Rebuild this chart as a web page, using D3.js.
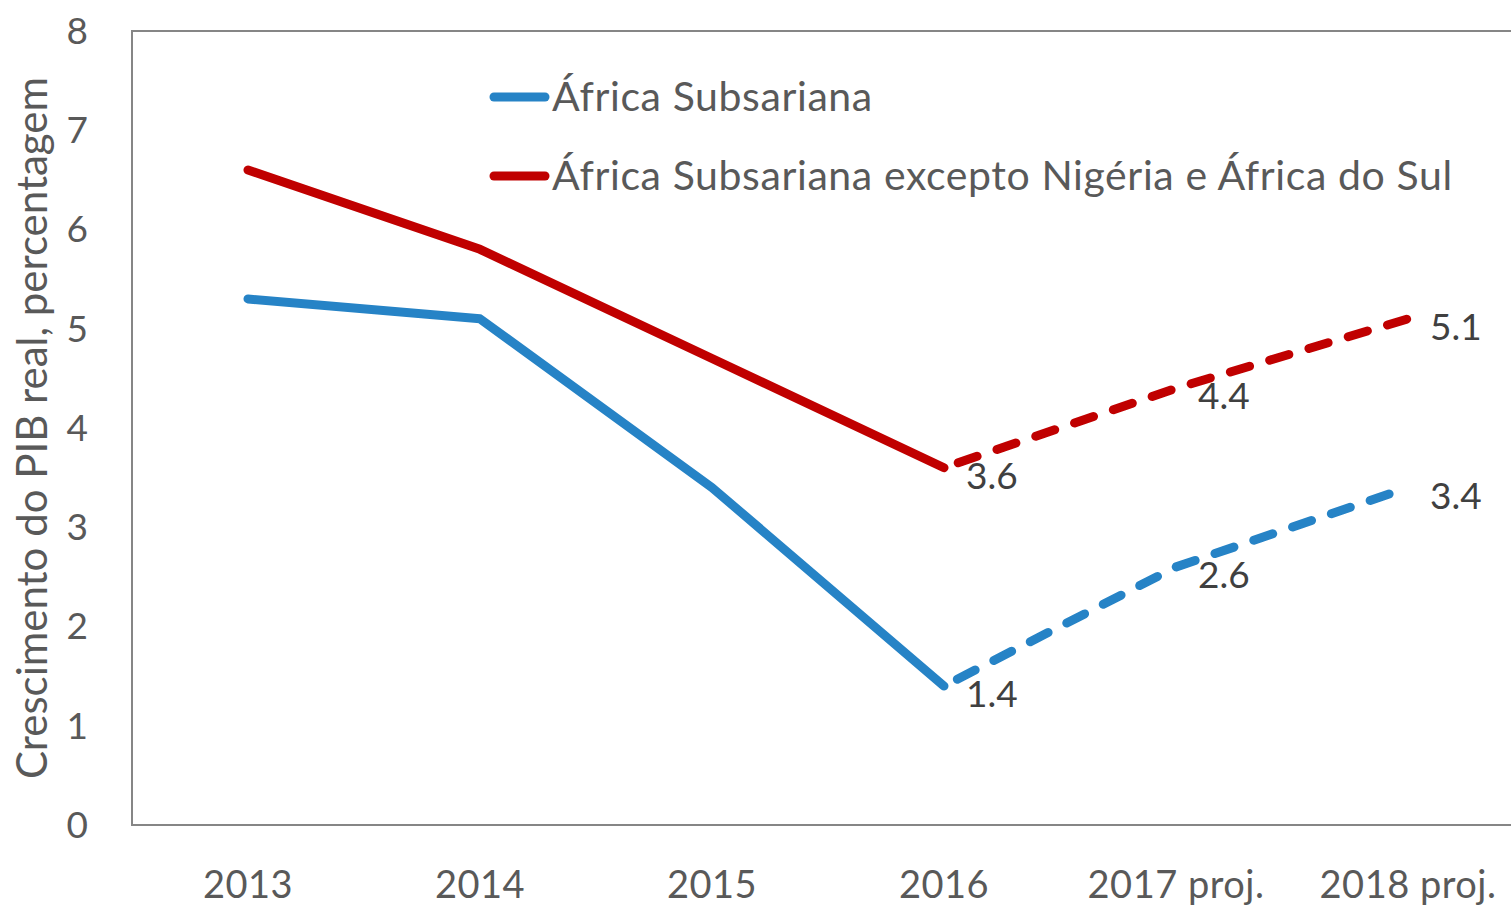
<!DOCTYPE html>
<html>
<head>
<meta charset="utf-8">
<script src="https://cdn.jsdelivr.net/npm/d3@7"></script>
<style>
  body { margin: 0; background: #fff; }
  svg text { font-family: Lato, "Open Sans", sans-serif; }
</style>
</head>
<body>
<svg id="chart" width="1511" height="909"></svg>
<script>
// Real GDP growth, percent
const categories = ['2013', '2014', '2015', '2016', '2017 proj.', '2018 proj.'];
const ssaValues = [5.3, 5.1, 3.4, 1.4, 2.6, 3.4];
const ssaExValues = [6.6, 5.8, 4.7, 3.6, 4.4, 5.1];
const seriesNames = ['África Subsariana', 'África Subsariana excepto Nigéria e África do Sul'];
const seriesColors = ['#2683C6', '#C00000'];
const yTicks = [0, 1, 2, 3, 4, 5, 6, 7, 8];
const firstProjected = 3; // from 2016 on the line is dashed
const labelFrom = 3;      // data labels shown from 2016

const svg = d3.select('#chart');
const plot = { left: 132, top: 31, bottom: 825, right: 1524 };

const x = d3.scaleBand().domain(categories).range([plot.left, plot.right]);
const cx = c => x(c) + x.bandwidth() / 2;
const y = d3.scaleLinear().domain([0, 8]).range([plot.bottom, plot.top]);

// plot frame
svg.append('rect')
    .attr('x', plot.left).attr('y', plot.top)
    .attr('width', plot.right - plot.left).attr('height', plot.bottom - plot.top)
    .attr('fill', 'none')
    .attr('stroke', '#868686')
    .attr('stroke-width', 2);

// y tick labels
svg.append('g')
    .selectAll('text')
    .data(yTicks)
    .join('text')
    .attr('x', 88)
    .attr('y', d => y(d))
    .attr('dy', '0.35em')
    .attr('text-anchor', 'end')
    .attr('font-size', '37px')
    .attr('fill', '#595959')
    .text(d => d);

// x labels
svg.append('g')
    .selectAll('text')
    .data(categories)
    .join('text')
    .attr('x', d => cx(d))
    .attr('y', 898)
    .attr('text-anchor', 'middle')
    .attr('font-size', '38px')
    .attr('letter-spacing', '0.5px')
    .attr('fill', '#595959')
    .text(d => d);

// y axis title
svg.append('text')
    .attr('transform', `translate(47, ${(plot.top + plot.bottom) / 2}) rotate(-90)`)
    .attr('text-anchor', 'middle')
    .attr('font-size', '42px')
    .attr('fill', '#595959')
    .text('Crescimento do PIB real, percentagem');

const line = d3.line()
    .x(d => cx(d.cat))
    .y(d => y(d.v));

const allSeries = [ssaValues, ssaExValues];

allSeries.forEach((vals, i) => {
    const pts = vals.map((v, j) => ({ cat: categories[j], v }));
    const g = svg.append('g');

    // historical part
    g.append('path')
        .datum(pts.slice(0, firstProjected + 1))
        .attr('d', line)
        .attr('fill', 'none')
        .attr('stroke', seriesColors[i])
        .attr('stroke-width', 9)
        .attr('stroke-linejoin', 'round')
        .attr('stroke-linecap', 'round');

    // projection (dashed)
    g.append('path')
        .datum(pts.slice(firstProjected))
        .attr('d', line)
        .attr('fill', 'none')
        .attr('stroke', seriesColors[i])
        .attr('stroke-width', 9)
        .attr('stroke-dasharray', '20,21')
        .attr('stroke-dashoffset', -15)
        .attr('stroke-linecap', 'round');

    // data labels
    g.selectAll('text')
        .data(pts.slice(labelFrom))
        .join('text')
        .attr('x', d => cx(d.cat) + 22)
        .attr('y', d => y(d.v) + 8)
        .attr('dy', '0.35em')
        .attr('font-size', '37px')
        .attr('fill', '#404040')
        .text(d => d.v.toFixed(1));
});

// legend
const legend = svg.append('g');
seriesNames.forEach((name, i) => {
    const ly = 97 + i * 79;
    legend.append('line')
        .attr('x1', 494).attr('x2', 545)
        .attr('y1', ly).attr('y2', ly)
        .attr('stroke', seriesColors[i])
        .attr('stroke-width', 9)
        .attr('stroke-linecap', 'round');
    legend.append('text')
        .attr('x', 552)
        .attr('y', ly)
        .attr('dy', '0.35em')
        .attr('font-size', '41px')
        .attr('letter-spacing', '0.6px')
        .attr('fill', '#595959')
        .text(name);
});
</script>
</body>
</html>
